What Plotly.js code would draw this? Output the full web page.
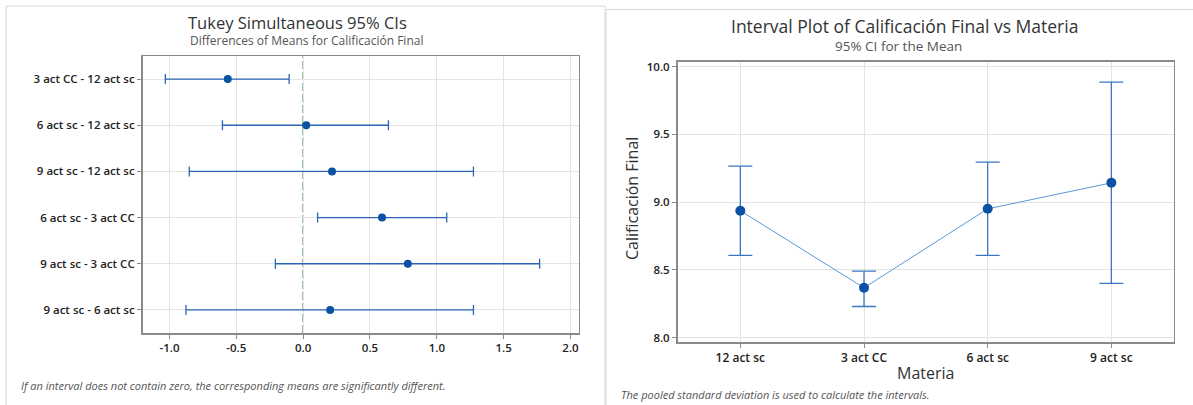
<!DOCTYPE html>
<html>
<head>
<meta charset="utf-8">
<script src="https://cdn.plot.ly/plotly-3.0.1.min.js"></script>
<style>html,body{margin:0;padding:0;background:#fff;}#chart{width:1193px;height:405px;}</style>
</head>
<body>
<div id="chart"></div>
<script>
// ---- Tukey comparisons (left panel) ----
const tukeyLabels = ["3 act CC - 12 act sc", "6 act sc - 12 act sc", "9 act sc - 12 act sc", "6 act sc - 3 act CC", "9 act sc - 3 act CC", "9 act sc - 6 act sc"];
const tukeyDiff  = [-0.564, 0.023, 0.216, 0.590, 0.783, 0.202];
const tukeyLower = [-1.031, -0.604, -0.852, 0.108, -0.208, -0.877];
const tukeyUpper = [-0.105, 0.638, 1.274, 1.074, 1.769, 1.274];
const tukeyTicks = [-1.0, -0.5, 0.0, 0.5, 1.0, 1.5, 2.0];

// ---- Interval plot (right panel) ----
const materias = ["12 act sc", "3 act CC", "6 act sc", "9 act sc"];
const means  = [8.937, 8.368, 8.951, 9.143];
const ciLow  = [8.607, 8.230, 8.607, 8.400];
const ciHigh = [9.266, 8.491, 9.295, 9.886];
const intervalTicks = [8.0, 8.5, 9.0, 9.5, 10.0];

const W = 1193, H = 405;
const px = v => v / W;
const py = v => 1 - v / H;
const FONT = "Open Sans, Noto Sans, sans-serif";

const traces = [
  {
    type: "scatter", mode: "markers",
    x: tukeyDiff, y: tukeyLabels, xaxis: "x", yaxis: "y",
    marker: {color: "#0b52a3", size: 8, symbol: "circle"},
    error_x: {
      type: "data", symmetric: false,
      array: tukeyUpper.map((u, i) => u - tukeyDiff[i]),
      arrayminus: tukeyDiff.map((d, i) => d - tukeyLower[i]),
      color: "#2a66b3", thickness: 1.3, width: 5
    },
    hoverinfo: "skip", showlegend: false
  },
  {
    type: "scatter", mode: "lines+markers",
    x: materias, y: means, xaxis: "x2", yaxis: "y2",
    line: {color: "#5e97d6", width: 1},
    marker: {color: "#0b52a3", size: 10, symbol: "circle"},
    error_y: {
      type: "data", symmetric: false,
      array: ciHigh.map((h, i) => h - means[i]),
      arrayminus: means.map((m, i) => m - ciLow[i]),
      color: "#3a77c2", thickness: 1.3, width: 12
    },
    hoverinfo: "skip", showlegend: false
  }
];

const axisCommon = {
  showline: true, linecolor: "#8a8a8a", linewidth: 1.5, mirror: true,
  showgrid: true, gridcolor: "#e4e4e4", gridwidth: 1,
  ticks: "outside", ticklen: 4, tickcolor: "#8a8a8a", tickwidth: 1,
  zeroline: false,
  tickfont: {family: FONT, size: 11.5, color: "#222", weight: 600}
};

const layout = {
  width: W, height: H,
  margin: {l: 0, r: 0, t: 0, b: 0},
  paper_bgcolor: "#fff", plot_bgcolor: "#fff",
  font: {family: FONT, color: "#333"},
  showlegend: false,
  xaxis: Object.assign({}, axisCommon, {
    domain: [px(142.5), px(578.5)], anchor: "y",
    range: [-1.202, 2.06],
    tickvals: tukeyTicks, ticktext: tukeyTicks.map(v => v.toFixed(1))
  }),
  yaxis: Object.assign({}, axisCommon, {
    domain: [py(333), py(56)], anchor: "x",
    type: "category", categoryorder: "array", categoryarray: tukeyLabels,
    range: [5.5, -0.5]
  }),
  xaxis2: Object.assign({}, axisCommon, {
    domain: [px(677.5), px(1173.7)], anchor: "y2",
    type: "category", categoryorder: "array", categoryarray: materias,
    range: [-0.508, 3.504],
    tickfont: {family: FONT, size: 12, color: "#222", weight: 600}
  }),
  yaxis2: Object.assign({}, axisCommon, {
    domain: [py(342), py(61.7)], anchor: "x2",
    range: [7.968, 10.037],
    tickvals: intervalTicks, ticktext: intervalTicks.map(v => v.toFixed(1))
  }),
  shapes: [
    // panel frames
    {type: "rect", xref: "paper", yref: "paper", x0: px(6), x1: px(605), y0: py(408), y1: py(6),
     line: {color: "#d8d8d8", width: 1}, fillcolor: "rgba(0,0,0,0)", layer: "below"},
    {type: "line", xref: "paper", yref: "paper", x0: px(606), x1: px(606), y0: py(408), y1: py(9.5),
     line: {color: "#d8d8d8", width: 1}},
    {type: "line", xref: "paper", yref: "paper", x0: px(606), x1: px(1195), y0: py(9.5), y1: py(9.5),
     line: {color: "#d8d8d8", width: 1}},
    // zero reference line
    {type: "line", xref: "x", yref: "paper", x0: 0, x1: 0, y0: py(333), y1: py(56),
     line: {color: "#177a2c", width: 1.2, dash: "8px,3px"}, layer: "below"}
  ],
  annotations: [
    {xref: "paper", yref: "paper", x: px(297), y: py(22), text: "Tukey Simultaneous 95% CIs",
     showarrow: false, xanchor: "center", yanchor: "middle",
     font: {family: FONT, size: 16.5, color: "#333"}},
    {xref: "paper", yref: "paper", x: px(306), y: py(41), text: "Differences of Means for Calificación Final",
     showarrow: false, xanchor: "center", yanchor: "middle",
     font: {family: FONT, size: 12, color: "#555"}},
    {xref: "paper", yref: "paper", x: px(19), y: py(385), text: "<i>If an interval does not contain zero, the corresponding means are significantly different.</i>",
     showarrow: false, xanchor: "left", yanchor: "middle",
     font: {family: FONT, size: 11, color: "#555"}},
    {xref: "paper", yref: "paper", x: px(904), y: py(26), text: "Interval Plot of Calificación Final vs Materia",
     showarrow: false, xanchor: "center", yanchor: "middle",
     font: {family: FONT, size: 17.5, color: "#333"}},
    {xref: "paper", yref: "paper", x: px(898), y: py(46), text: "95% CI for the Mean",
     showarrow: false, xanchor: "center", yanchor: "middle",
     font: {family: FONT, size: 13.5, color: "#555"}},
    {xref: "paper", yref: "paper", x: px(632), y: py(199), text: "Calificación Final", textangle: -90,
     showarrow: false, xanchor: "center", yanchor: "middle",
     font: {family: FONT, size: 16, color: "#333"}},
    {xref: "paper", yref: "paper", x: px(925.6), y: py(373), text: "Materia",
     showarrow: false, xanchor: "center", yanchor: "middle",
     font: {family: FONT, size: 16, color: "#333"}},
    {xref: "paper", yref: "paper", x: px(619), y: py(394), text: "<i>The pooled standard deviation is used to calculate the intervals.</i>",
     showarrow: false, xanchor: "left", yanchor: "middle",
     font: {family: FONT, size: 11, color: "#555"}}
  ]
};

Plotly.newPlot("chart", traces, layout, {staticPlot: true, displayModeBar: false});
</script>
</body>
</html>
